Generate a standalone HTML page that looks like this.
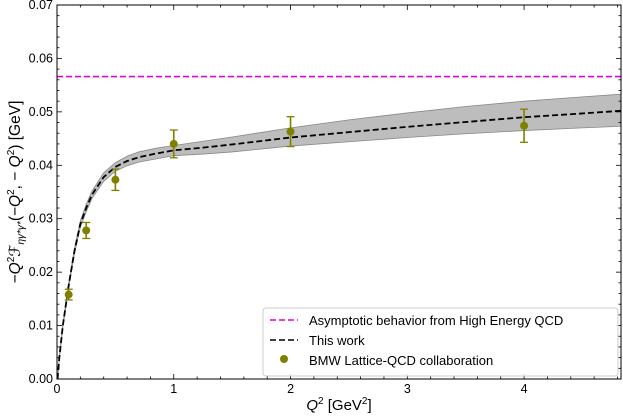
<!DOCTYPE html>
<html><head><meta charset="utf-8"><style>
html,body{margin:0;padding:0;background:#fff;}
svg{display:block;font-family:"Liberation Sans","DejaVu Sans",sans-serif;}
</style></head><body>
<svg id="chart" width="623" height="416" viewBox="0 0 623 416" xmlns="http://www.w3.org/2000/svg"></svg>
<script>
const curveX=[0.005,0.02,0.05,0.1,0.15,0.2,0.25,0.3,0.4,0.5,0.6,0.7,0.85,1,1.25,1.5,2,2.5,3,3.5,4,4.5,4.83];
const curveY=[0,0.004,0.0100,0.0175,0.024,0.029,0.032,0.0345,0.0378,0.0397,0.0408,0.0415,0.0422,0.0428,0.0433,0.0439,0.0452,0.0462,0.0472,0.0481,0.049,0.0497,0.0502];
const bandUp=[0,0.0042,0.0103,0.0179,0.0245,0.0296,0.0327,0.0352,0.0386,0.0405,0.0417,0.0425,0.0432,0.0437,0.0445,0.0453,0.047,0.0485,0.0498,0.051,0.052,0.0528,0.0533];
const bandLo=[0,0.0038,0.0097,0.0171,0.0235,0.0284,0.0313,0.0338,0.0370,0.0389,0.0399,0.0406,0.0412,0.0418,0.0421,0.0425,0.0436,0.0444,0.0452,0.0459,0.0465,0.047,0.0473];
const ptX=[0.1,0.25,0.5,1,2,4];
const ptY=[0.0158,0.0278,0.0373,0.0440,0.0463,0.0474];
const ptErr=[0.0010,0.0015,0.0020,0.0026,0.0028,0.0031];
const asym=0.0566;
const xTicks=[0,1,2,3,4];
const yTicks=[0,0.01,0.02,0.03,0.04,0.05,0.06,0.07];

const NS="http://www.w3.org/2000/svg";
const svg=document.getElementById('chart');
const L=57,R=621,T=5,B=379,XMAX=4.83,YMAX=0.07;
const sx=v=>L+v/XMAX*(R-L);
const sy=v=>B-v/YMAX*(B-T);
function mk(tag,attrs,parent){const e=document.createElementNS(NS,tag);for(const k in attrs)e.setAttribute(k,attrs[k]);(parent||svg).appendChild(e);return e;}

let d='M'+curveX.map((x,i)=>sx(x)+','+sy(bandUp[i])).join('L');
for(let i=curveX.length-1;i>=0;i--)d+='L'+sx(curveX[i])+','+sy(bandLo[i]);
const band=mk('path',{d:d+'Z',fill:'#bdbdbd',stroke:'#888','stroke-width':0.8});



const asl=mk('line',{x1:L,x2:R,y1:sy(asym),y2:sy(asym),stroke:'#e000e0','stroke-width':1.6,'stroke-dasharray':'6,3'});



const cl=mk('path',{d:'M'+curveX.map((x,i)=>sx(x)+','+sy(curveY[i])).join('L'),fill:'none',stroke:'#000','stroke-width':1.8,'stroke-dasharray':'6,3'});



ptX.forEach((x,i)=>{
  const g=mk('g',{});
  
  
  const X=sx(x),y1=sy(ptY[i]+ptErr[i]),y2=sy(ptY[i]-ptErr[i]);
  mk('line',{x1:X,x2:X,y1:y1,y2:y2,stroke:'#808000','stroke-width':1.6},g);
  mk('line',{x1:X-4,x2:X+4,y1:y1,y2:y1,stroke:'#808000','stroke-width':1.3},g);
  mk('line',{x1:X-4,x2:X+4,y1:y2,y2:y2,stroke:'#808000','stroke-width':1.3},g);
  mk('circle',{cx:X,cy:sy(ptY[i]),r:4,fill:'#808000'},g);
});

const fr=mk('rect',{x:L,y:T,width:R-L,height:B-T,fill:'none',stroke:'#000','stroke-width':1});


for(let v=0;v<=XMAX+1e-9;v+=0.2){
  const X=sx(v),maj=Math.abs(v-Math.round(v))<1e-6,len=maj?5:2.5;
  mk('line',{x1:X,x2:X,y1:B,y2:B-len,stroke:'#000','stroke-width':0.8});
  mk('line',{x1:X,x2:X,y1:T,y2:T+len,stroke:'#000','stroke-width':0.8});
}
xTicks.forEach(v=>{const t=mk('text',{x:sx(v),y:B+14,'text-anchor':'middle','font-size':12.5});t.textContent=v;
});
for(let v=0;v<=YMAX+1e-9;v+=0.002){
  const Y=sy(v),maj=Math.abs(v*100-Math.round(v*100))<1e-6,len=maj?5:2.5;
  mk('line',{x1:L,x2:L+len,y1:Y,y2:Y,stroke:'#000','stroke-width':0.8});
  mk('line',{x1:R,x2:R-len,y1:Y,y2:Y,stroke:'#000','stroke-width':0.8});
}
yTicks.forEach(v=>{const t=mk('text',{x:L-4,y:sy(v)+4,'text-anchor':'end','font-size':12.5});t.textContent=v.toFixed(2);
});

const xt=mk('text',{x:339,y:410,'text-anchor':'middle','font-size':15});


xt.innerHTML='<tspan font-style="italic">Q</tspan><tspan font-size="10" dy="-6">2</tspan><tspan dy="6"> [GeV</tspan><tspan font-size="10" dy="-6">2</tspan><tspan dy="6">]</tspan>';
const yt=mk('text',{x:0,y:0,'text-anchor':'middle','font-size':15.5,transform:'translate(20,192) rotate(-90)'});


yt.innerHTML='−<tspan font-style="italic">Q</tspan><tspan font-size="10" dy="-6">2</tspan><tspan dy="6" font-style="italic">ℱ</tspan><tspan font-size="10" dy="4" font-style="italic">ηγ*γ*</tspan><tspan dy="-4">(−</tspan><tspan font-style="italic">Q</tspan><tspan font-size="10" dy="-6">2</tspan><tspan dy="6">, − </tspan><tspan font-style="italic">Q</tspan><tspan font-size="10" dy="-6">2</tspan><tspan dy="6">) [GeV]</tspan>';

const lg=mk('g',{});


mk('rect',{x:263,y:308,width:355,height:68,rx:3,fill:'#fff','fill-opacity':0.85,stroke:'#ccc'},lg);
const ents=[['Asymptotic behavior from High Energy QCD','#e000e0','line'],['This work','#000','line'],['BMW Lattice-QCD collaboration','#808000','pt']];
ents.forEach((e,i)=>{
  const y=320+i*20;
  const g=mk('g',{},lg);
  
  
  if(e[2]==='line')mk('line',{x1:270,x2:298,y1:y,y2:y,stroke:e[1],'stroke-width':1.6,'stroke-dasharray':'6,3'},g);
  else mk('circle',{cx:284,cy:y-1,r:4,fill:e[1]},g);
  const t=mk('text',{x:309,y:y+5,'font-size':13},g);t.textContent=e[0];
});
</script>
</body></html>
